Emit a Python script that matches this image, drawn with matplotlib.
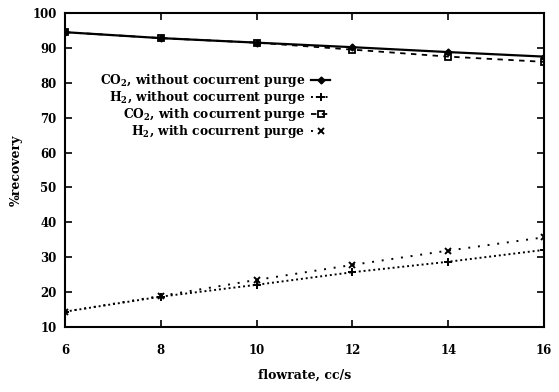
import numpy as np
import matplotlib.pyplot as plt

plt.rcParams['font.family'] = 'DejaVu Serif'
plt.rcParams['font.weight'] = 'bold'
plt.rcParams['mathtext.fontset'] = 'dejavuserif'
plt.rcParams['mathtext.default'] = 'bf'

flowrate = [6, 8, 10, 12, 14, 16]
co2_without = [94.5, 92.8, 91.5, 90.2, 88.8, 87.5]
h2_without = [14.4, 18.7, 22.1, 25.7, 28.7, 32.1]
co2_with = [94.5, 92.8, 91.5, 89.5, 87.5, 86.0]
h2_with = [14.4, 18.9, 23.5, 27.8, 31.9, 35.7]

labels = ['CO$_2$, without cocurrent purge',
          'H$_2$, without cocurrent purge',
          'CO$_2$, with cocurrent purge',
          'H$_2$, with cocurrent purge']

fig = plt.figure(figsize=(5.59, 3.92), dpi=100)
ax = fig.add_axes([65 / 559, 1 - 327 / 392, (544 - 65) / 559, (327 - 13) / 392])

ax.plot(flowrate, co2_without, color='black', lw=1.6, ls='-',
        marker='D', ms=3.5, label=labels[0])
ax.plot(flowrate, h2_without, color='black', lw=1.4, ls=(0, (1, 1.5)),
        marker='+', ms=6, mew=1.4, label=labels[1])
ax.plot(flowrate, co2_with, color='black', lw=1.3, ls=(0, (3, 3)),
        marker='s', ms=4.5, mfc='none', mew=1.3, label=labels[2])
ax.plot(flowrate, h2_with, color='black', lw=1.4, ls=(0, (1, 4)),
        marker='x', ms=5, mew=1.4, label=labels[3])

ax.set_xlim(6, 16)
ax.set_ylim(10, 100)
ax.set_xticks(range(6, 17, 2))
ax.set_yticks(range(10, 101, 10))
ax.tick_params(direction='in', top=True, right=True, length=5, width=1.2,
               labelsize=8.5, pad=6)
ax.tick_params(axis='x', pad=12)
for s in ax.spines.values():
    s.set_linewidth(1.5)

ax.set_xlabel('flowrate, cc/s', fontsize=9, fontweight='bold', labelpad=9)
ax.set_ylabel('%recovery', fontsize=9, fontweight='bold', labelpad=7)

ax.legend(loc='upper left', bbox_to_anchor=(0.06, 0.83), frameon=False,
          markerfirst=False, fontsize=8.8, handlelength=1.5,
          labelspacing=0.0, handletextpad=0.5, borderpad=0)

fig.savefig('out.png', dpi=100)
